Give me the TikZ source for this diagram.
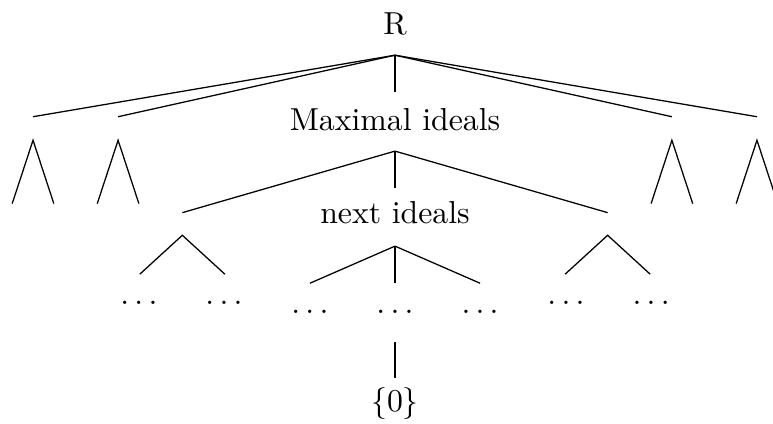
\documentclass[tikz,border=0pt]{standalone}
\usepackage{amsmath,amssymb}
\usepackage{tikz}
\usetikzlibrary{positioning}
\tikzset{
  lbl/.style={inner sep=0pt},
  br/.style={line width=0.4pt},
  pics/wedge/.style 2 args={code={\draw[br] (-#1,-#2) -- (0,0) -- (#1,-#2);}}
}

\begin{document}
\begin{tikzpicture}
\useasboundingbox (-4.365,0) rectangle (4.177,-4.685);
% level 0: the ring
\node[lbl] (R) at (0,-0.26) {R};
\coordinate (r0) at (0,-0.61);
\coordinate (a1) at (-4.0,-1.29); \coordinate (a2) at (-3.06,-1.29);
\coordinate (a3) at (0,-1.02);
\coordinate (a4) at (3.06,-1.29);  \coordinate (a5) at (4.0,-1.29);
\foreach \e in {a1,a2,a3,a4,a5} \draw[br] (r0) -- (\e);
% level 1: maximal ideals
\node[lbl] (max) at (0,-1.32) {Maximal ideals};
\pic at (-4.0,-1.55) {wedge={0.23}{0.7}};
\pic at (-3.06,-1.55) {wedge={0.23}{0.7}};
\pic at (3.06,-1.55) {wedge={0.23}{0.7}};
\pic at (4.0,-1.55) {wedge={0.23}{0.7}};
\coordinate (m0) at (0,-1.67);
\coordinate (b1) at (-2.35,-2.35); \coordinate (b2) at (0,-2.08); \coordinate (b3) at (2.35,-2.35);
\foreach \e in {b1,b2,b3} \draw[br] (m0) -- (\e);
% level 2: next ideals
\node[lbl] (nxt) at (0,-2.35) {next ideals};
\pic at (-2.35,-2.60) {wedge={0.47}{0.43}};
\pic at (2.35,-2.60) {wedge={0.47}{0.43}};
\coordinate (n0) at (0,-2.72);
\coordinate (c1) at (-0.94,-3.13); \coordinate (c2) at (0,-3.13); \coordinate (c3) at (0.94,-3.13);
\foreach \e in {c1,c2,c3} \draw[br] (n0) -- (\e);
% level 3: dots
\node[lbl] (d1) at (-2.83,-3.35) {$\ldots$};
\node[lbl] (d2) at (-1.89,-3.35) {$\ldots$};
\node[lbl] (d3) at (-0.94,-3.45) {$\ldots$};
\node[lbl] (d4) at (0,-3.45) {$\ldots$};
\node[lbl] (d5) at (0.94,-3.45) {$\ldots$};
\node[lbl] (d6) at (1.89,-3.35) {$\ldots$};
\node[lbl] (d7) at (2.83,-3.35) {$\ldots$};
% bottom: zero ideal
\coordinate (z0) at (0,-3.78);
\node[lbl] (zero) at (0,-4.46) {$\{0\}$};
\coordinate (z1) at (0,-4.18);
\draw[br] (z0) -- (z1);
\end{tikzpicture}
\end{document}
